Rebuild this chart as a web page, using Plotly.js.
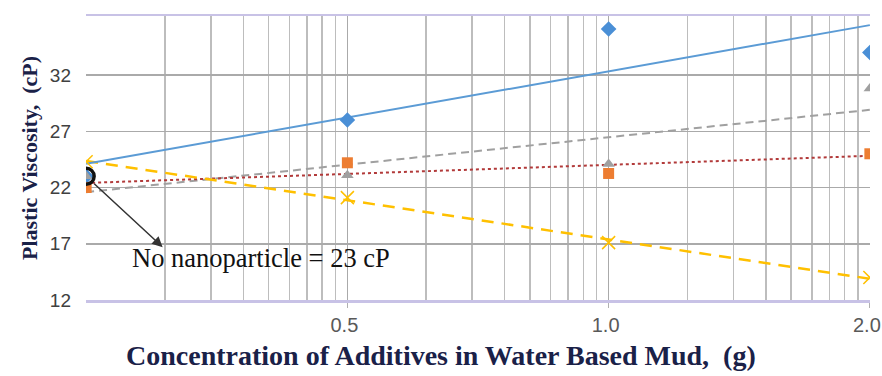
<!DOCTYPE html>
<html>
<head>
<meta charset="utf-8">
<script src="https://cdn.plot.ly/plotly-3.0.1.min.js"></script>
<style>html,body{margin:0;padding:0;background:#fff;}#chart{width:882px;height:376px;}</style>
</head>
<body>
<div id="chart"></div>
<script>
// Plotted positions on the (log) concentration axis and their labels
const xPos = [1, 10, 100, 1000];
const tickVals = [10, 100, 1000];
const tickText = ["0.5", "1.0", "2.0"];
const yTicks = [12, 17, 22, 27, 32];

// Plastic viscosity (cP) for each additive series
const seriesBlue   = [23.0, 28.0, 36.1, 34.0];
const seriesOrange = [22.0, 24.2, 23.25, 25.0];
const seriesGray   = [23.0, 23.1, 24.1, 30.8];
const seriesYellow = [24.3, 21.1, 17.1, 14.0];
const baseX = [1];
const baseY = [23];

function trend(xs, ys) {
  const lx = xs.map(v => Math.log10(v));
  const n = lx.length;
  const mx = lx.reduce((a, b) => a + b, 0) / n;
  const my = ys.reduce((a, b) => a + b, 0) / n;
  let sxy = 0, sxx = 0;
  for (let i = 0; i < n; i++) { sxy += (lx[i] - mx) * (ys[i] - my); sxx += (lx[i] - mx) ** 2; }
  const b = sxy / sxx, a = my - b * mx;
  const ex = [xs[0], xs[n - 1]];
  return { x: ex, y: ex.map(v => a + b * Math.log10(v)) };
}

const tB = trend(xPos, seriesBlue), tO = trend(xPos, seriesOrange),
      tG = trend(xPos, seriesGray), tY = trend(xPos, seriesYellow);

const minorVals = [];
for (let d = 1; d <= 100; d *= 10) for (let k = 1; k <= 9; k++) minorVals.push(k * d);

const traces = [
  {x: tG.x, y: tG.y, mode: 'lines', line: {color: '#a0a0a0', width: 2, dash: '8px,5px'}, hoverinfo: 'skip'},
  {x: tO.x, y: tO.y, mode: 'lines', line: {color: '#b23a3a', width: 2, dash: 'dot'}, hoverinfo: 'skip'},
  {x: tY.x, y: tY.y, mode: 'lines', line: {color: '#ffc000', width: 2.5, dash: '12px,8px'}, hoverinfo: 'skip'},
  {x: tB.x, y: tB.y, mode: 'lines', line: {color: '#5b9bd5', width: 2}, hoverinfo: 'skip'},
  {x: xPos, y: seriesBlue, mode: 'markers', marker: {symbol: 'diamond', size: 12, color: '#4a8fd6'}},
  {x: xPos, y: seriesOrange, mode: 'markers', marker: {symbol: 'square', size: 11, color: '#ed7d31'}},
  {x: xPos, y: seriesGray, mode: 'markers', marker: {symbol: 'triangle-up', size: 11, color: '#a0a0a0'}},
  {x: xPos, y: seriesYellow, mode: 'markers', marker: {symbol: 'x-thin-open', size: 13, color: '#ffc000', line: {color: '#ffc000', width: 1.5}}},
  {x: baseX, y: baseY, mode: 'markers', marker: {symbol: 'circle-open', size: 16, color: '#111', line: {color: '#111', width: 3.5}}}
];

const serif = 'Liberation Serif, Times New Roman, serif';
const layout = {
  width: 882, height: 376,
  margin: {l: 86, r: 12, t: 16, b: 76},
  paper_bgcolor: '#fff', plot_bgcolor: '#fff',
  showlegend: false,
  xaxis: {
    type: 'log', range: [-0.0005, 3.0005],
    tickmode: 'array', tickvals: tickVals, ticktext: tickText,
    ticks: 'outside', ticklen: 5, tickcolor: '#b0b0b0',
    ticklabeloverflow: 'allow', ticklabelshift: -3,
    tickfont: {family: 'Liberation Sans, Arial, sans-serif', size: 20, color: '#595959'},
    showgrid: true, gridcolor: '#aaaaaa', gridwidth: 1.5,
    minor: {tickmode: 'array', tickvals: minorVals, showgrid: true, gridcolor: '#bdbdbd', gridwidth: 1.5, ticks: ''},
    showline: true, linecolor: '#c8c2e6', linewidth: 2.5, mirror: true,
    zeroline: false, fixedrange: true
  },
  yaxis: {
    range: [12, 37.25], tickmode: 'array', tickvals: yTicks,
    tickfont: {family: 'Liberation Sans, Arial, sans-serif', size: 19, color: '#404040'},
    ticklabelstandoff: 14,
    showgrid: true, gridcolor: '#aaaaaa', gridwidth: 1.5,
    showline: false, zeroline: false,
    title: {text: 'Plastic Viscosity,\u00a0 (cP)', font: {family: serif, size: 22, color: '#1a2148', weight: 'bold'}, standoff: 6}
  },
  annotations: [
    {xref: 'x', yref: 'y', x: 0.293, y: 16.7, axref: 'x', ayref: 'y', ax: 0, ay: 23,
     text: '', showarrow: true, arrowhead: 2, arrowsize: 1.4, arrowwidth: 1.5, arrowcolor: '#333', standoff: 0, startstandoff: 9},
    {xref: 'paper', yref: 'paper', x: 0.056, y: 0.148, xanchor: 'left', yanchor: 'middle',
     text: 'No nanoparticle = 23 cP', showarrow: false, font: {family: serif, size: 26.5, color: '#111'}},
    {xref: 'paper', yref: 'paper', x: (441 - 86) / 784, y: -0.195, xanchor: 'center', yanchor: 'middle',
     text: '<b>Concentration of Additives in Water Based Mud,\u00a0 (g)</b>', showarrow: false,
     font: {family: serif, size: 28, color: '#1a2148'}}
  ]
};

Plotly.newPlot('chart', traces, layout, {displayModeBar: false, staticPlot: true});
</script>
</body>
</html>
